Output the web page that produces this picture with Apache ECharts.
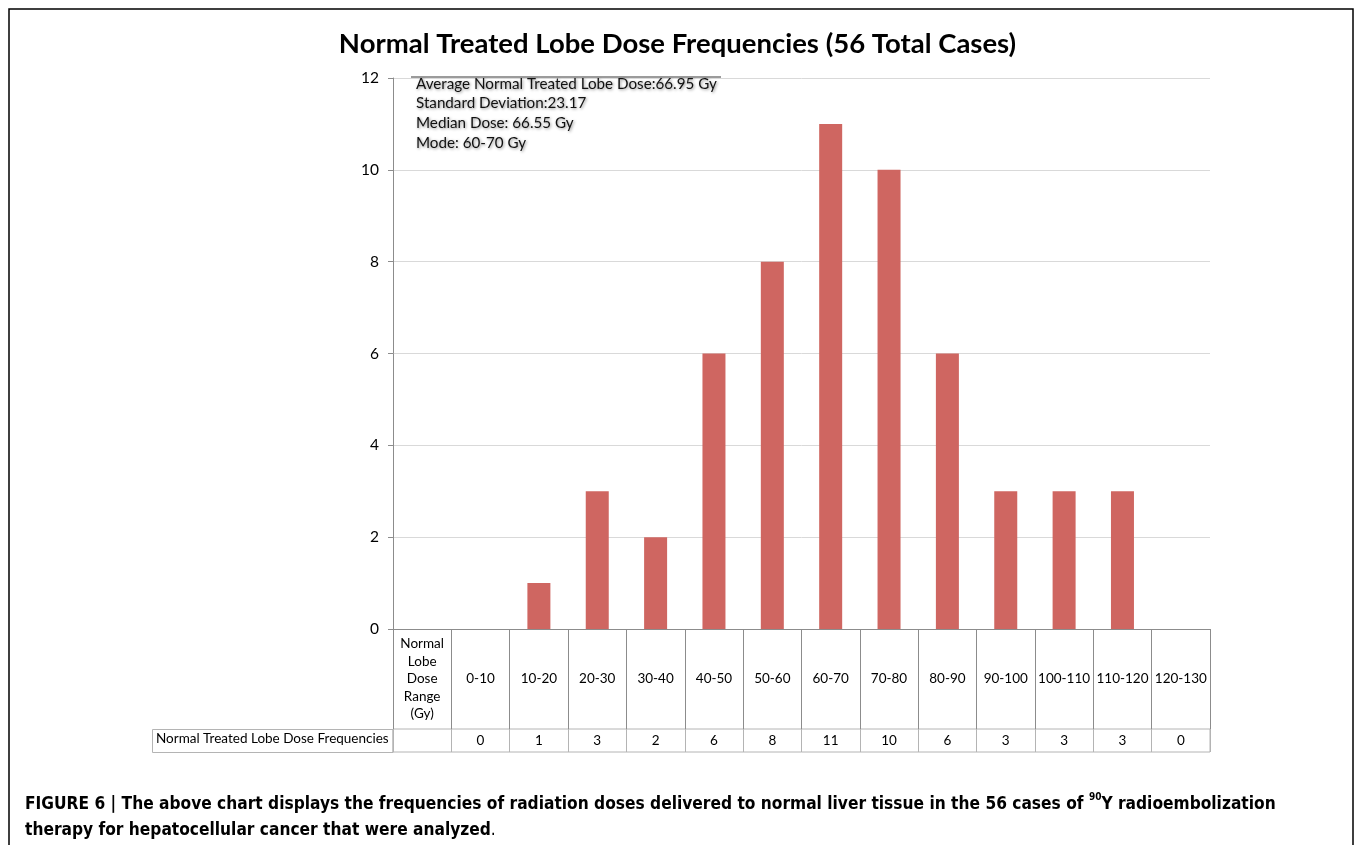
<!DOCTYPE html>
<html>
<head>
<meta charset="utf-8">
<script src="https://cdn.jsdelivr.net/npm/echarts@6/dist/echarts.min.js"></script>
<style>
html,body{margin:0;padding:0;background:#fff;}
#chart{width:1355px;height:845px;}
</style>
</head>
<body>
<div id="chart"></div>
<script>
const categories = ['Normal\nLobe\nDose\nRange\n(Gy)', '0-10', '10-20', '20-30', '30-40', '40-50', '50-60', '60-70', '70-80', '80-90', '90-100', '100-110', '110-120', '120-130'];
const frequencies = [null, 0, 1, 3, 2, 6, 8, 11, 10, 6, 3, 3, 3, 0];
const tableLabels = frequencies.map(v => v == null ? '' : String(v));
const yTicks = { min: 0, max: 12, interval: 2 };
const titleText = 'Normal Treated Lobe Dose Frequencies (56 Total Cases)';
const seriesName = 'Normal Treated Lobe Dose Frequencies';
const statsLines = ['Average Normal Treated Lobe Dose:66.95 Gy', 'Standard Deviation:23.17', 'Median Dose: 66.55 Gy', 'Mode: 60-70 Gy'];

const FONT = "Lato, 'Open Sans', sans-serif";
const CAP_FONT = "'Liberation Sans Narrow', 'DejaVu Sans Condensed', 'Liberation Sans', sans-serif";

const chart = echarts.init(document.getElementById('chart'));
chart.setOption({
  animation: false,
  backgroundColor: '#fff',
  title: {
    text: titleText,
    left: 'center',
    top: 25,
    textStyle: { fontFamily: FONT, fontSize: 27.5, fontWeight: 'bold', color: '#000' }
  },
  grid: [
    { left: 393, top: 78, width: 817, height: 551, containLabel: false },
    { left: 393, top: 729, width: 817, height: 23, show: true, borderColor: '#b4b4b4', borderWidth: 1 }
  ],
  xAxis: [
    {
      type: 'category', gridIndex: 0, data: categories,
      axisLine: { lineStyle: { color: '#8c8c8c', width: 1 } },
      axisTick: { show: true, interval: 0, length: 100, lineStyle: { color: '#8c8c8c' } },
      axisLabel: { interval: 0, margin: 50, verticalAlign: 'middle', lineHeight: 17.5, fontSize: 13.5, fontFamily: FONT, color: '#000' }
    },
    {
      type: 'category', gridIndex: 1, data: tableLabels, position: 'bottom',
      axisLine: { show: false },
      axisTick: { show: false },
      splitLine: { show: true, interval: 0, lineStyle: { color: '#b4b4b4' } },
      axisLabel: { interval: 0, margin: -11.5, verticalAlign: 'middle', fontSize: 13.5, fontFamily: FONT, color: '#000' }
    }
  ],
  yAxis: [
    {
      type: 'value', gridIndex: 0, min: yTicks.min, max: yTicks.max, interval: yTicks.interval,
      axisLine: { show: true, lineStyle: { color: '#8c8c8c' } },
      axisTick: { show: true, length: 5, lineStyle: { color: '#8c8c8c' } },
      splitLine: { lineStyle: { color: '#d9d9d9' } },
      axisLabel: { margin: 14, fontSize: 15.5, fontFamily: FONT, color: '#000' }
    },
    { type: 'value', gridIndex: 1, show: false, min: 0, max: 1 }
  ],
  series: [
    {
      name: seriesName, type: 'bar', xAxisIndex: 0, yAxisIndex: 0,
      data: frequencies, barWidth: 23,
      itemStyle: { color: '#cf6661' }
    }
  ],
  graphic: [
    {
      type: 'rect', shape: { x: 9, y: 9, width: 1344, height: 850 },
      style: { fill: 'none', stroke: '#000', lineWidth: 1.5 }, silent: true
    },
    {
      type: 'line', shape: { x1: 411, y1: 77, x2: 721, y2: 77 },
      style: { stroke: '#7a7a7a', lineWidth: 1.5 }, z: 10
    },
    {
      type: 'text', left: 416, top: 74, z: 10,
      style: {
        text: statsLines.join('\n'), fontSize: 15.2, lineHeight: 19.7, fontFamily: FONT, fill: '#111',
        textShadowColor: 'rgba(0,0,0,0.45)', textShadowBlur: 3, textShadowOffsetX: 1, textShadowOffsetY: 1
      }
    },
    {
      type: 'rect', shape: { x: 152.5, y: 729.5, width: 240.5, height: 23 },
      style: { fill: 'none', stroke: '#b4b4b4', lineWidth: 1 }
    },
    {
      type: 'text', left: 156, top: 732,
      style: { text: seriesName, fontSize: 13.5, fontFamily: FONT, fill: '#000' }
    },
    {
      type: 'text', left: 25, top: 792,
      style: {
        text: '{b|FIGURE 6 | The above chart displays the frequencies of radiation doses delivered to normal liver tissue in the 56 cases of }{s|90}{b|Y radioembolization}\n{b|therapy for hepatocellular cancer that were analyzed}{n|.}',
        lineHeight: 26,
        rich: {
          b: { fontFamily: CAP_FONT, fontSize: 17.2, fontWeight: 'bold', fill: '#000', lineHeight: 26 },
          s: { fontFamily: CAP_FONT, fontSize: 10, fontWeight: 'bold', fill: '#000', verticalAlign: 'top', lineHeight: 20 },
          n: { fontFamily: CAP_FONT, fontSize: 17.2, fill: '#000', lineHeight: 26 }
        }
      }
    }
  ]
});
</script>
</body>
</html>
